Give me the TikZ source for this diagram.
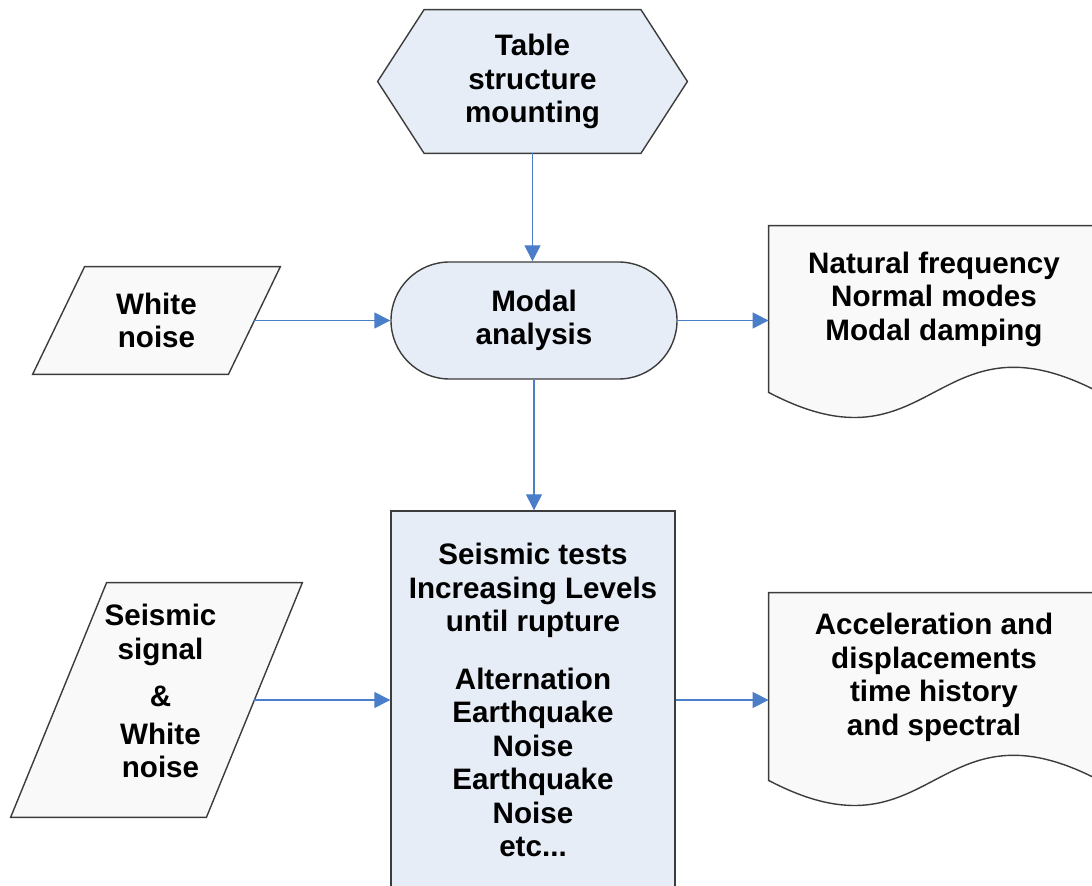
\documentclass[tikz,border=0pt]{standalone}
\usepackage{fontspec}
\setmainfont{Liberation Sans}
\usetikzlibrary{shapes.misc,arrows.meta,backgrounds}
\definecolor{flowblue}{RGB}{74,126,200}
\definecolor{boxblue}{RGB}{231,237,247}
\definecolor{boxgrey}{RGB}{249,249,249}
\definecolor{edgegrey}{RGB}{60,60,60}
\tikzset{
  boxtext/.style={align=center,font=\bfseries\fontsize{14.8}{16.75}\selectfont,inner sep=0pt},
  outline/.style={draw=edgegrey,line width=0.7pt},
  flow/.style={draw=flowblue,line width=0.7pt,-{Triangle[width=8pt,length=8pt]}},
}

\begin{document}
\begin{tikzpicture}[x=0.5pt,y=-0.5pt]
\useasboundingbox (0,0) rectangle (1092,886);

\node[boxtext,minimum width=108pt,minimum height=71.5pt] (prep) at (532.5,81.5) {Table\\structure\\mounting};
\node[boxtext,rounded rectangle,outline,fill=boxblue,minimum width=143pt,minimum height=58.5pt] (modal) at (534,320.5) {Modal\\analysis};
\node[boxtext,outline,fill=boxblue,minimum width=142pt,minimum height=189pt] (tests) at (533,700)
  {Seismic tests\\Increasing Levels\\until rupture\\[12pt]Alternation\\Earthquake\\Noise\\Earthquake\\Noise\\etc...};

\node[boxtext,minimum width=97.5pt,minimum height=53.5pt] (wnoise) at (156.5,320.5) {White\\noise};
\node[boxtext,minimum width=97.5pt,minimum height=117pt,
  label={[boxtext,yshift=4.5pt,xshift=2pt]center:Seismic\\signal\\[7pt]\&\\[2pt]White\\noise}] (seismic) at (156.5,700) {};

\node[boxtext,minimum width=165pt,minimum height=83pt,
  label={[boxtext,yshift=5pt]center:Natural frequency\\Normal modes\\Modal damping}] (natfreq) at (934,309) {};
\node[boxtext,minimum width=165pt,minimum height=93.5pt,
  label={[boxtext,yshift=4.5pt]center:Acceleration and\\displacements\\time history\\and spectral}] (accel) at (934,686.5) {};

\begin{scope}[on background layer]
\draw[outline,fill=boxblue] ([xshift=-23.25pt]prep.west) -- (prep.north west) -- (prep.north east)
  -- ([xshift=23.25pt]prep.east) -- (prep.south east) -- (prep.south west) -- cycle;
\draw[outline,fill=boxgrey] ([xshift=13pt]wnoise.north west) -- ([xshift=13pt]wnoise.north east)
  -- ([xshift=-13pt]wnoise.south east) -- ([xshift=-13pt]wnoise.south west) -- cycle;
\draw[outline,fill=boxgrey] ([xshift=24pt]seismic.north west) -- ([xshift=24pt]seismic.north east)
  -- ([xshift=-24pt]seismic.south east) -- ([xshift=-24pt]seismic.south west) -- cycle;
\draw[outline,fill=boxgrey] (natfreq.north west) -- (natfreq.north east) -- (natfreq.south east)
  .. controls ([yshift=43.5pt]natfreq.south) and ([yshift=-43.5pt]natfreq.south) .. (natfreq.south west) -- cycle;
\draw[outline,fill=boxgrey] (accel.north west) -- (accel.north east) -- (accel.south east)
  .. controls ([yshift=43.5pt]accel.south) and ([yshift=-43.5pt]accel.south) .. (accel.south west) -- cycle;
\end{scope}

\draw[flow] (prep.south) -- (prep.south |- modal.north);
\draw[flow] (wnoise.east) -- (modal.west);
\draw[flow] (modal.east) -- (modal.east -| natfreq.west);
\draw[flow] (modal.south) -- (modal.south |- tests.north);
\draw[flow] (seismic.east) -- (tests.west);
\draw[flow] (tests.east) -- (tests.east -| accel.west);

\end{tikzpicture}
\end{document}
